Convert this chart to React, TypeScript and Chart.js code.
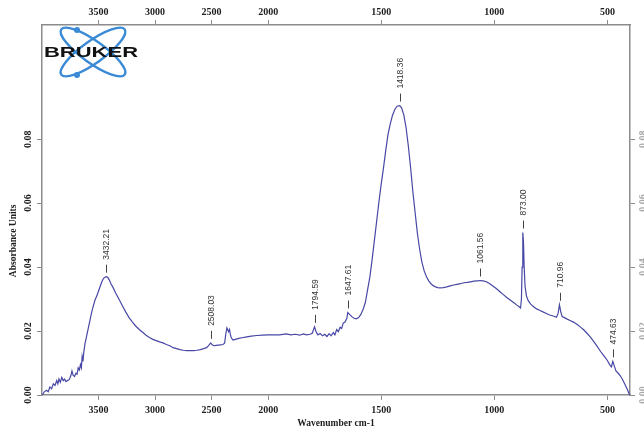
import React, { useEffect, useRef } from "react";
import { Chart, registerables } from "chart.js";

Chart.register(...registerables);

// ---- Data ----
const wavenumbers = [
  3996, 3980, 3960, 3945, 3930, 3915, 3900, 3885, 3870, 3860, 3850, 3838, 3825, 3812, 3800, 3788, 3775, 3760,
  3745, 3735, 3725, 3712, 3700, 3690, 3680, 3670, 3660, 3652, 3645, 3638, 3630, 3620, 3605, 3590, 3575, 3560,
  3545, 3530, 3515, 3500, 3485, 3470, 3455, 3440, 3432, 3420, 3405, 3390, 3370, 3350, 3320, 3290, 3260, 3230,
  3200, 3170, 3140, 3110, 3080, 3050, 3020, 2990, 2960, 2930, 2900, 2870, 2840, 2810, 2780, 2750, 2720, 2690,
  2660, 2630, 2600, 2570, 2545, 2525, 2508, 2495, 2480, 2460, 2440, 2420, 2400, 2385, 2375, 2365, 2358, 2350,
  2342, 2335, 2325, 2310, 2290, 2260, 2230, 2200, 2150, 2100, 2050, 2000, 1950, 1920, 1900, 1880, 1860, 1845,
  1830, 1815, 1805, 1795, 1788, 1780, 1770, 1760, 1750, 1740, 1730, 1722, 1712, 1705, 1697, 1690, 1682, 1675,
  1668, 1660, 1652, 1648, 1640, 1630, 1620, 1610, 1600, 1590, 1580, 1570, 1560, 1550, 1540, 1530, 1520, 1510,
  1500, 1490, 1480, 1470, 1460, 1450, 1440, 1430, 1418, 1410, 1400, 1390, 1380, 1370, 1360, 1350, 1340, 1330,
  1320, 1310, 1300, 1290, 1280, 1270, 1260, 1250, 1240, 1225, 1210, 1195, 1180, 1165, 1150, 1135, 1120, 1105,
  1090, 1075, 1062, 1050, 1035, 1020, 1005, 990, 975, 960, 945, 930, 915, 900, 890, 884, 880, 877, 874, 871,
  868, 864, 858, 850, 840, 830, 815, 800, 785, 770, 755, 740, 725, 718, 712, 706, 700, 690, 680, 665, 650, 635,
  620, 605, 590, 575, 560, 545, 530, 515, 500, 490, 482, 476, 470, 462, 452, 443, 432, 420, 410, 402,
];

const absorbance = [
  0.0, 0.001, 0.0015, 0.001, 0.0025, 0.002, 0.0035, 0.003, 0.0045, 0.0035, 0.005, 0.004, 0.0055, 0.0045, 0.005,
  0.0042, 0.0045, 0.0048, 0.006, 0.0075, 0.0062, 0.0058, 0.0068, 0.0065, 0.0085, 0.0078, 0.0095, 0.0085, 0.012,
  0.0105, 0.0135, 0.016, 0.0185, 0.021, 0.0235, 0.026, 0.028, 0.0298, 0.031, 0.0325, 0.034, 0.0355, 0.0365,
  0.0369, 0.037, 0.0368, 0.036, 0.0348, 0.0335, 0.032, 0.03, 0.028, 0.026, 0.0242, 0.0228, 0.0215, 0.0205,
  0.0196, 0.0187, 0.018, 0.0174, 0.017, 0.0166, 0.0163, 0.0158, 0.0154, 0.0148, 0.0145, 0.0142, 0.014, 0.0139,
  0.0139, 0.0139, 0.014, 0.0142, 0.0145, 0.0148, 0.0155, 0.0163, 0.0157, 0.0154, 0.0155, 0.0156, 0.0157, 0.0158,
  0.0162, 0.019, 0.021, 0.0205, 0.0198, 0.0205, 0.019, 0.0178, 0.0172, 0.0174, 0.0177, 0.0179, 0.0181, 0.0184,
  0.0186, 0.0187, 0.0188, 0.0188, 0.0191, 0.0188, 0.019, 0.0187, 0.0191, 0.0188, 0.019, 0.0193, 0.0213, 0.0198,
  0.0188, 0.0192, 0.0185, 0.019, 0.0183, 0.0192, 0.0185, 0.0195, 0.0188, 0.0205, 0.0198, 0.0212, 0.0208, 0.0225,
  0.0228, 0.024, 0.0258, 0.0252, 0.0245, 0.024, 0.0238, 0.0242, 0.0252, 0.0268, 0.029, 0.033, 0.037, 0.0425,
  0.0485, 0.0545, 0.0605, 0.066, 0.071, 0.0765, 0.0815, 0.0848, 0.0875, 0.0893, 0.0903, 0.0905, 0.0898, 0.0875,
  0.0835, 0.0778, 0.071, 0.0635, 0.057, 0.0505, 0.0455, 0.0415, 0.0388, 0.037, 0.0357, 0.0348, 0.0342, 0.0338,
  0.0336, 0.0335, 0.0336, 0.0338, 0.0341, 0.0344, 0.0346, 0.0348, 0.0351, 0.0352, 0.0354, 0.0356, 0.0357, 0.0358,
  0.0357, 0.0354, 0.0348, 0.034, 0.0332, 0.0323, 0.0314, 0.0305, 0.0297, 0.0289, 0.0281, 0.0276, 0.0272, 0.03,
  0.04, 0.0508, 0.048, 0.04, 0.034, 0.031, 0.0295, 0.0285, 0.0278, 0.027, 0.0265, 0.026, 0.0255, 0.025, 0.0247,
  0.0243, 0.0255, 0.0282, 0.026, 0.0245, 0.0242, 0.0238, 0.0233, 0.0228, 0.0221, 0.0213, 0.0204, 0.0193, 0.0181,
  0.0167, 0.0152, 0.0136, 0.0122, 0.0108, 0.0095, 0.0088, 0.0105, 0.0092, 0.0075, 0.0068, 0.006, 0.0047, 0.003,
  0.0015, 0.0,
];

const peakLabels = ["3432.21", "2508.03", "1794.59", "1647.61", "1418.36", "1061.56", "873.00", "710.96", "474.63"];
const peakWavenumbers = [3432.21, 2508.03, 1794.59, 1647.61, 1418.36, 1061.56, 873.0, 710.96, 474.63];
const peakAbsorbance = [0.037, 0.0163, 0.0213, 0.0258, 0.0905, 0.0358, 0.0508, 0.0282, 0.0105];

const xTickValues = [3500, 3000, 2500, 2000, 1500, 1000, 500];
const yTickValues = [0, 0.02, 0.04, 0.06, 0.08];

const X_LOW = 400;
const X_HIGH = 4000;
const X_BREAK = 2000; // above this wavenumber the axis is compressed by a factor of 2
const Y_MIN = 0;
const Y_MAX = 0.1157;

const xTitle = "Wavenumber cm-1";
const yTitle = "Absorbance Units";

// map wavenumber to axis coordinate (piecewise linear axis)
const toAxis = (w: number) => (w > X_BREAK ? X_BREAK + (w - X_BREAK) / 2 : w);

const AXIS_COLOR = "#8c8c8c";
const LINE_COLOR = "#4747a6";
const SERIF = "'Liberation Serif', 'Times New Roman', serif";
const SANS = "'Liberation Sans', Arial, sans-serif";

const overlayPlugin = {
  id: "overlay",
  beforeDraw(chart: any) {
    const { ctx, width, height } = chart;
    ctx.save();
    ctx.fillStyle = "#ffffff";
    ctx.fillRect(0, 0, width, height);
    ctx.restore();
  },
  afterDraw(chart: any) {
    const ctx: CanvasRenderingContext2D = chart.ctx;
    const area = chart.chartArea;
    const xs = chart.scales.x;
    const ys = chart.scales.y;

    ctx.save();
    // x tick labels (bottom and top)
    ctx.font = `bold 10px ${SERIF}`;
    ctx.fillStyle = "#1e1e1e";
    ctx.textAlign = "center";
    ctx.textBaseline = "middle";
    xTickValues.forEach((w) => {
      const px = xs.getPixelForValue(toAxis(w));
      ctx.fillText(String(w), px, area.bottom + 15);
      ctx.fillText(String(w), px, area.top - 13);
    });

    // y tick labels (rotated), left and right
    yTickValues.forEach((v) => {
      const py = ys.getPixelForValue(v);
      ctx.save();
      ctx.translate(area.left - 14, py);
      ctx.rotate(-Math.PI / 2);
      ctx.fillText(v.toFixed(2), 0, 0);
      ctx.restore();
      ctx.save();
      ctx.fillStyle = "#a8a8a8";
      ctx.translate(area.right + 13, py);
      ctx.rotate(-Math.PI / 2);
      ctx.fillText(v.toFixed(2), 0, 0);
      ctx.restore();
    });

    // axis titles
    ctx.font = `bold 9.5px ${SERIF}`;
    ctx.fillStyle = "#1e1e1e";
    ctx.fillText(xTitle, (area.left + area.right) / 2, area.bottom + 29);
    ctx.save();
    ctx.translate(area.left - 28, ys.getPixelForValue(0.0482));
    ctx.rotate(-Math.PI / 2);
    ctx.fillText(yTitle, 0, 0);
    ctx.restore();

    // peak annotations
    ctx.font = `8.5px ${SANS}`;
    ctx.fillStyle = "#333333";
    ctx.strokeStyle = "#444444";
    ctx.lineWidth = 1;
    peakWavenumbers.forEach((w, i) => {
      const px = Math.round(xs.getPixelForValue(toAxis(w))) + 0.5;
      const py = ys.getPixelForValue(peakAbsorbance[i]);
      ctx.beginPath();
      ctx.moveTo(px, py - 4);
      ctx.lineTo(px, py - 12);
      ctx.stroke();
      ctx.save();
      ctx.translate(px, py - 17);
      ctx.rotate(-Math.PI / 2);
      ctx.textAlign = "left";
      ctx.textBaseline = "middle";
      ctx.fillText(peakLabels[i], 0, 0);
      ctx.restore();
    });

    // Bruker logo
    const cx = area.left + 51;
    const cy = area.top + 27;
    ctx.strokeStyle = "#3a8ad6";
    ctx.fillStyle = "#3a8ad6";
    ctx.lineWidth = 2.4;
    [0.62, -0.62].forEach((ang) => {
      ctx.beginPath();
      ctx.ellipse(cx, cy, 39, 11, ang, 0, Math.PI * 2);
      ctx.stroke();
    });
    [
      [cx - 16, cy - 22],
      [cx - 16, cy + 23],
    ].forEach(([dx, dy]) => {
      ctx.beginPath();
      ctx.arc(dx, dy, 3, 0, Math.PI * 2);
      ctx.fill();
    });
    ctx.font = `bold 15px ${SANS}`;
    ctx.fillStyle = "#111111";
    ctx.textAlign = "left";
    ctx.textBaseline = "middle";
    const tw = ctx.measureText("BRUKER").width;
    ctx.save();
    ctx.translate(area.left + 2, cy + 1);
    ctx.scale(94 / tw, 1);
    ctx.fillText("BRUKER", 0, 0);
    ctx.restore();

    ctx.restore();
  },
};

export default function App() {
  const canvasRef = useRef<HTMLCanvasElement | null>(null);

  useEffect(() => {
    document.body.style.margin = "0";
    const canvas = canvasRef.current;
    if (!canvas) return;

    const points = wavenumbers.map((w, i) => ({ x: toAxis(w), y: absorbance[i] }));

    const xAxisCommon = {
      type: "linear" as const,
      reverse: true,
      min: toAxis(X_LOW),
      max: toAxis(X_HIGH),
      afterBuildTicks: (scale: any) => {
        scale.ticks = xTickValues.map((w) => ({ value: toAxis(w) }));
      },
      ticks: { display: false },
      grid: {
        display: true,
        drawOnChartArea: false,
        drawTicks: true,
        tickLength: 5,
        color: AXIS_COLOR,
        lineWidth: 1,
      },
      border: { display: true, color: AXIS_COLOR, width: 1.5 },
    };
    const yAxisCommon = {
      type: "linear" as const,
      min: Y_MIN,
      max: Y_MAX,
      afterBuildTicks: (scale: any) => {
        scale.ticks = yTickValues.map((v) => ({ value: v }));
      },
      ticks: { display: false },
      grid: {
        display: true,
        drawOnChartArea: false,
        drawTicks: true,
        tickLength: 5,
        color: AXIS_COLOR,
        lineWidth: 1,
      },
      border: { display: true, color: AXIS_COLOR, width: 1.5 },
    };

    const chart = new Chart(canvas, {
      type: "line",
      data: {
        datasets: [
          {
            label: "Spectrum",
            data: points,
            borderColor: LINE_COLOR,
            borderWidth: 1.2,
            pointRadius: 0,
            tension: 0,
            fill: false,
            xAxisID: "x",
            yAxisID: "y",
          },
        ],
      },
      options: {
        responsive: false,
        animation: false,
        devicePixelRatio: 1,
        layout: { padding: { left: 37, top: 20, right: 9, bottom: 30 } },
        plugins: { legend: { display: false }, tooltip: { enabled: false } },
        scales: {
          x: { ...xAxisCommon, position: "bottom" },
          x2: { ...xAxisCommon, position: "top" },
          y: { ...yAxisCommon, position: "left" },
          y2: { ...yAxisCommon, position: "right" },
        },
      },
      plugins: [overlayPlugin],
    });

    return () => {
      chart.destroy();
    };
  }, []);

  return (
    <div style={{ position: "absolute", left: 0, top: 0, width: 644, height: 430 }}>
      <canvas ref={canvasRef} width={644} height={430} style={{ display: "block" }} />
    </div>
  );
}
